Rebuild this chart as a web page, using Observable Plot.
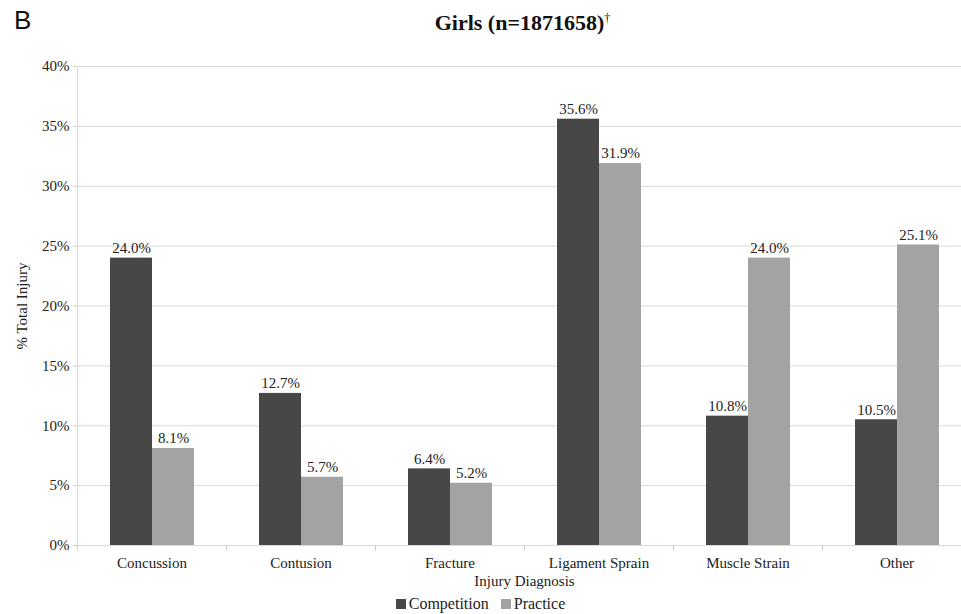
<!DOCTYPE html>
<html><head><meta charset="utf-8">
<script src="https://cdn.jsdelivr.net/npm/d3@7"></script>
<script src="https://cdn.jsdelivr.net/npm/@observablehq/plot@0.6"></script>
<style>
body{margin:0;background:#fff;overflow:hidden;}
#wrap{position:relative;width:961px;height:614px;overflow:hidden;font-family:"Liberation Serif","Times New Roman",serif;color:#222;}
#chart svg{max-width:none !important;}
#B{position:absolute;left:14px;top:5px;font:26px "Liberation Sans",Arial,sans-serif;color:#111;}
#title{position:absolute;left:80px;width:885px;top:4px;text-align:center;font-weight:bold;font-size:22px;line-height:28px;color:#111;}
#title sup{font-size:12px;font-weight:normal;}
#legend{position:absolute;left:0;width:961px;top:596px;text-align:center;font-size:16px;line-height:16px;}
#legend span.sw{display:inline-block;width:10px;height:10px;margin-right:3px;vertical-align:0px;}
#legend span.item{margin:0 6px;}
</style>
</head><body>
<div id="wrap">
<div id="chart"></div>
<div id="B">B</div>
<div id="title">Girls (n=1871658)<sup>†</sup></div>
<div id="legend"></div>
</div>
<script>
const categories = ["Concussion","Contusion","Fracture","Ligament Sprain","Muscle Strain","Other"];
const series = ["Competition","Practice"];
const competition = [24.0,12.7,6.4,35.6,10.8,10.5];
const practice = [8.1,5.7,5.2,31.9,24.0,25.1];
const colors = ["#474747","#a3a3a3"];
const yTicks = [0,5,10,15,20,25,30,35,40];

const data = categories.flatMap((c,i)=>[
  {category:c, series:series[0], value:competition[i]},
  {category:c, series:series[1], value:practice[i]}
]);

const chart = Plot.plot({
  width:972, height:614,
  marginTop:66, marginBottom:69, marginLeft:76, marginRight:0,
  style:{fontFamily:"'Liberation Serif','Times New Roman',serif", fontSize:"15px", color:"#222", background:"#fff", maxWidth:"none"},
  fx:{domain:categories, padding:0},
  x:{domain:series, paddingInner:0, paddingOuter:0.76, axis:null},
  y:{domain:[0,40]},
  color:{domain:series, range:colors},
  marks:[
    Plot.gridY(yTicks, {stroke:"#d9d9d9", strokeOpacity:1}),
    Plot.frame({anchor:"left", stroke:"#d9d9d9", strokeOpacity:1, fx:["Concussion"]}),
    Plot.frame({anchor:"left", stroke:"#d0d0d0", strokeOpacity:1, insetTop:479, insetBottom:-5}),
    Plot.barY(data, {fx:"category", x:"series", y:"value", fill:"series"}),
    Plot.text(data, {fx:"category", x:"series", y:"value", text:d=>d.value.toFixed(1)+"%", dy:-10, fill:"#222", fontSize:15}),
    Plot.axisY(yTicks, {tickFormat:d=>d+"%", tickSize:4, stroke:"#d0d0d0", tickPadding:4, fill:"#222", fontSize:15,
      label:"% Total Injury", labelAnchor:"center", labelArrow:"none", labelOffset:61}),
    Plot.axisFx({anchor:"bottom", tickSize:0, tickPadding:12, fill:"#222", fontSize:15,
      label:"Injury Diagnosis", labelAnchor:"center", labelArrow:"none", labelOffset:40})
  ]
});
chart.style.maxWidth = "none";
document.getElementById("chart").appendChild(chart);

const legend = document.getElementById("legend");
series.forEach((s,i)=>{
  const item = document.createElement("span");
  item.className = "item";
  const sw = document.createElement("span");
  sw.className = "sw";
  sw.style.background = colors[i];
  item.appendChild(sw);
  item.appendChild(document.createTextNode(s));
  legend.appendChild(item);
});
</script>
</body></html>
